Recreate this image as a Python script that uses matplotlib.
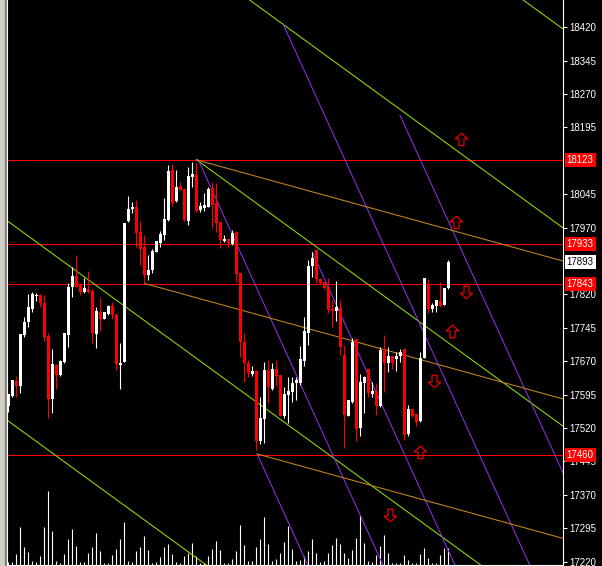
import numpy as np
import matplotlib
matplotlib.use('Agg')
import matplotlib.pyplot as plt
from matplotlib.path import Path
from matplotlib.transforms import blended_transform_factory

# candle data, bar 0 = leftmost visible bar
opens = [17570, 17592, 17626, 17614, 17729, 17758, 17787, 17817, 17819, 17801,
         17727, 17585, 17662, 17639, 17668, 17729, 17837, 17862, 17843, 17826,
         17832, 17828, 17731, 17781, 17765, 17776, 17794, 17774, 17662, 17668,
         17985, 18012, 18016, 17960, 17927, 17864, 17875, 17915, 17936, 17954,
         17987, 18100, 18030, 18064, 18057, 17985, 18084, 18088, 18010, 18014,
         18016, 18059, 18025, 17983, 17940, 17944, 17933, 17960, 17868, 17713,
         17666, 17641, 17648, 17491, 17540, 17650, 17608, 17653, 17639, 17547,
         17594, 17601, 17621, 17621, 17671, 17734, 17884, 17920, 17855, 17848,
         17837, 17787, 17783, 17790, 17684, 17547, 17579, 17720, 17520, 17621,
         17653, 17596, 17603, 17570, 17698, 17666, 17681, 17675, 17681, 17698,
         17507, 17563, 17552, 17536, 17677, 17841, 17787, 17794, 17805, 17796,
         17835]
highs = [17597, 17628, 17637, 17731, 17769, 17821, 17826, 17823, 17821, 17819,
         17734, 17698, 17664, 17673, 17734, 17846, 17882, 17909, 17846, 17857,
         17873, 17832, 17792, 17812, 17781, 17797, 17803, 17779, 17711, 17981,
         18041, 18028, 18032, 17985, 17954, 17909, 17922, 17940, 17963, 18037,
         18111, 18113, 18100, 18073, 18059, 18106, 18118, 18118, 18028, 18048,
         18061, 18073, 18070, 17983, 17954, 17947, 17965, 17962, 17868, 17734,
         17673, 17659, 17650, 17590, 17668, 17673, 17666, 17673, 17639, 17612,
         17635, 17635, 17635, 17704, 17769, 17897, 17915, 17920, 17855, 17848,
         17857, 17808, 17850, 17808, 17707, 17583, 17722, 17720, 17641, 17637,
         17653, 17623, 17621, 17702, 17729, 17702, 17681, 17691, 17698, 17698,
         17572, 17563, 17552, 17691, 17857, 17855, 17801, 17808, 17848, 17835,
         17897]
lows = [17556, 17590, 17590, 17599, 17725, 17747, 17781, 17805, 17792, 17716,
        17543, 17554, 17608, 17637, 17666, 17702, 17814, 17837, 17819, 17823,
        17823, 17711, 17700, 17738, 17765, 17774, 17765, 17650, 17608, 17668,
        17983, 18003, 17927, 17886, 17846, 17853, 17868, 17915, 17927, 17942,
        17985, 18019, 18028, 18055, 17985, 17976, 18061, 18005, 18005, 18007,
        18016, 17969, 17960, 17924, 17938, 17924, 17931, 17848, 17680, 17623,
        17635, 17637, 17471, 17484, 17487, 17576, 17605, 17614, 17547, 17543,
        17531, 17579, 17583, 17617, 17659, 17707, 17859, 17846, 17843, 17832,
        17778, 17747, 17760, 17684, 17475, 17547, 17576, 17491, 17502, 17554,
        17590, 17590, 17549, 17567, 17601, 17646, 17653, 17648, 17668, 17493,
        17502, 17545, 17525, 17534, 17677, 17778, 17781, 17781, 17792, 17796,
        17832]
closes = [17597, 17628, 17614, 17731, 17758, 17792, 17821, 17819, 17801, 17725,
          17585, 17664, 17639, 17671, 17734, 17837, 17862, 17837, 17826, 17835,
          17826, 17734, 17783, 17765, 17781, 17794, 17774, 17664, 17666, 17981,
          18012, 18016, 17958, 17922, 17864, 17875, 17918, 17940, 17956, 17990,
          18097, 18025, 18061, 18055, 17987, 18086, 18091, 18007, 18019, 18021,
          18057, 18021, 17980, 17942, 17944, 17936, 17958, 17866, 17713, 17666,
          17644, 17648, 17491, 17543, 17650, 17612, 17653, 17637, 17547, 17596,
          17603, 17621, 17628, 17675, 17738, 17884, 17902, 17855, 17846, 17835,
          17785, 17783, 17792, 17702, 17549, 17583, 17713, 17518, 17623, 17635,
          17599, 17603, 17570, 17695, 17666, 17683, 17666, 17683, 17691, 17504,
          17563, 17547, 17534, 17677, 17857, 17787, 17796, 17808, 17794, 17835,
          17893]
volumes = [2, 2, 10, 37, 17, 12, 3, 2, 8, 37, 73, 33, 3, 1, 10, 25, 35, 18, 2, 2,
           11, 17, 31, 13, 1, 1, 9, 15, 25, 42, 3, 2, 13, 17, 28, 14, 1, 2, 7, 17,
           20, 10, 2, 1, 8, 11, 21, 8, 1, 1, 8, 15, 23, 14, 1, 1, 5, 13, 39, 19,
           3, 3, 17, 25, 47, 20, 3, 5, 11, 22, 38, 15, 3, 4, 8, 13, 25, 11, 2, 3,
           11, 19, 26, 20, 11, 6, 14, 26, 49, 21, 3, 2, 9, 18, 29, 11, 1, 1, 1, 9,
           4, 1, 1, 10, 16, 6, 1, 1, 9, 16, 16]

# horizontal levels and last price
levels = [18123, 17933, 17843, 17460]
last_price = 17893
price_ticks = [p for p in range(17220, 18421, 75) if p not in (18120, 17895)]

# trend lines: (start bar, start price), slope in points per bar
green_lines = [(-0.33, 17538), (-0.5, 17987), (47.0, 18123), (59.0, 18490), (128.0, 18486)]
green_slope = -6.53
purple_lines = [(62.2, 17462), (47.5, 18122), (76.0, 17915), (68.7, 18427), (97.9, 18223)]
purple_slope = -19.7
orange_lines = [(47.2, 18122), (34.0, 17845), (62.2, 17462)]
orange_slope = -2.48

# signal arrows (bar, price)
up_bars = [113.2, 111.9, 110.9, 102.9]
up_prices = [18169, 17983, 17738, 17466]
down_bars = [114.4, 106.4, 95.4]
down_prices = [17826, 17626, 17325]

W, H = 602, 566
fig = plt.figure(figsize=(W / 100, H / 100), dpi=100)
fig.patch.set_facecolor('black')

# grey strip at the left edge
fig.add_artist(plt.Rectangle((0, 0), 4.5 / W, 1, transform=fig.transFigure, color='#d4d0c8', zorder=0))
fig.add_artist(plt.Rectangle((4.5 / W, 0), 1.5 / W, 1, transform=fig.transFigure, color='#808080', zorder=0))

ax_l, ax_r, ax_b, ax_t = 6.5, 562.7, 1.5, 566
ax = fig.add_axes([ax_l / W, ax_b / H, (ax_r - ax_l) / W, (ax_t - ax_b) / H])
ax.set_facecolor('black')

xmin = (ax_l - 8.3) / 4
xmax = (ax_r - 8.3) / 4
ymin, ymax = 17213.7, 18481.3

# volume on its own scale along the bottom
vax = ax.twinx()
vax.set_ylim(0, 564)
vax.axis('off')
x = np.arange(len(opens))
vax.vlines(x, 0, volumes, color='white', lw=0.8)

ax.set_zorder(vax.get_zorder() + 1)
ax.patch.set_visible(False)
vax.patch.set_visible(True)
vax.patch.set_facecolor('black')

# horizontal levels
for lv in levels:
    ax.axhline(lv, color='#ff0000', lw=0.75, zorder=1)

# trend lines
xr = xmax + 2
for (b0, p0) in green_lines:
    ax.plot([b0, xr], [p0, p0 + green_slope * (xr - b0)], color='#8ee000', lw=0.75, zorder=2)
for (b0, p0) in purple_lines:
    ax.plot([b0, xr], [p0, p0 + purple_slope * (xr - b0)], color='#9030e8', lw=0.75, zorder=2)
for (b0, p0) in orange_lines:
    ax.plot([b0, xr], [p0, p0 + orange_slope * (xr - b0)], color='#c8881e', lw=0.75, zorder=2)

# candles
o = np.array(opens); c = np.array(closes)
h = np.array(highs); l = np.array(lows)
bull = c >= o
cols = np.where(bull, 'white', '#ff0000')
ax.vlines(x, l, h, colors=cols, lw=0.8, zorder=3)
body_lo = np.minimum(o, c)
body_h = np.maximum(np.abs(c - o), 2.3)
ax.bar(x, body_h, bottom=body_lo, width=0.72, color=cols, edgecolor='none', zorder=4)

# hollow arrows
up_path = Path([(0, 1), (1, 0.1), (0.4, 0.1), (0.4, -1), (-0.4, -1), (-0.4, 0.1), (-1, 0.1), (0, 1)],
               [Path.MOVETO] + [Path.LINETO] * 6 + [Path.CLOSEPOLY])
down_path = Path([(vx, -vy) for vx, vy in up_path.vertices], up_path.codes)
ax.plot(up_bars, up_prices, linestyle='none', marker=up_path, markersize=9,
        markerfacecolor='none', markeredgecolor='#ff0000', markeredgewidth=0.8, zorder=5)
ax.plot(down_bars, down_prices, linestyle='none', marker=down_path, markersize=9,
        markerfacecolor='none', markeredgecolor='#ff0000', markeredgewidth=0.8, zorder=5)

ax.set_xlim(xmin, xmax)
ax.set_ylim(ymin, ymax)
vax.set_xlim(xmin, xmax)

ax.set_xticks([])
ax.yaxis.tick_right()
ax.set_yticks(price_ticks)
ax.set_yticklabels([str(p) for p in price_ticks])
ax.tick_params(axis='y', colors='white', labelcolor='white', length=3, width=0.8, pad=2,
               labelsize=7)
for t in ax.get_yticklabels():
    t.set_family('Liberation Sans')

ax.spines['top'].set_visible(False)
for side in ['left', 'right', 'bottom']:
    ax.spines[side].set_color('white')
    ax.spines[side].set_linewidth(0.8)

# price labels on the scale
tr = blended_transform_factory(ax.transAxes, ax.transData)
lx = 1 + 4.0 / (ax_r - ax_l)
for lv in levels:
    ax.text(lx, lv, str(lv), transform=tr, ha='left', va='center', color='white', fontsize=7,
            family='Liberation Sans', clip_on=False, zorder=6,
            bbox=dict(boxstyle='square,pad=0.2', fc='#ff0000', ec='none'))
ax.text(lx, last_price, str(last_price), transform=tr, ha='left', va='center', color='black',
        fontsize=7, family='Liberation Sans', clip_on=False, zorder=6,
        bbox=dict(boxstyle='square,pad=0.2', fc='white', ec='none'))

fig.savefig('out.png', dpi=100, facecolor='black')
